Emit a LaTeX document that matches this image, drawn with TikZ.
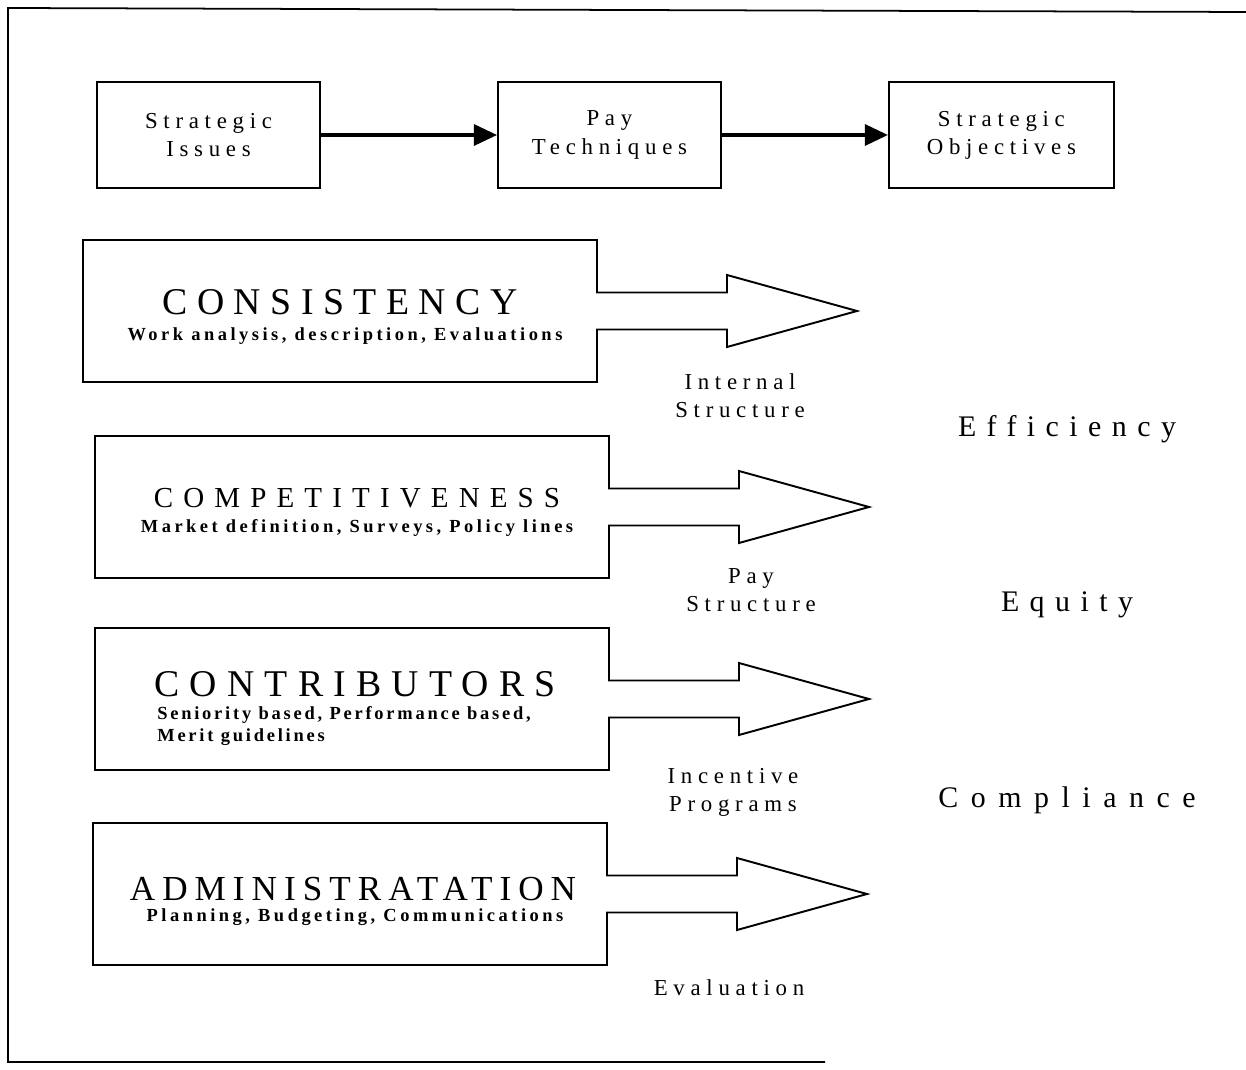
\documentclass[tikz,border=0pt]{standalone}
\usepackage{fontspec}
\setmainfont{Liberation Serif}
\newfontfamily\spaced[LetterSpace=25]{Liberation Serif}
\newfontfamily\wide[LetterSpace=35]{Liberation Serif}
\newfontfamily\narrowspaced[LetterSpace=19]{Liberation Serif}
\usetikzlibrary{arrows.meta}
\usetikzlibrary{positioning}
\tikzset{techbox/.style = {draw, line width = 1.1pt, minimum width = 4.46cm, minimum height = 2.12cm, inner sep = 0, align = center, font = \spaced\fontsize{13}{16}\selectfont}}
\tikzset{flow/.style = {line width = 1.8pt, -{Triangle[length = 0.46cm, width = 0.42cm]}}}
\tikzset{outline/.style = {line width = 1.1pt, line join = miter}}
\tikzset{heading/.style = {inner sep = 0, anchor = base}}
\tikzset{detail/.style = {inner sep = 0, font = \narrowspaced\bfseries\fontsize{10.5}{12.5}\selectfont}}
\tikzset{result/.style = {inner sep = 0, align = center, font = \spaced\fontsize{13}{16}\selectfont}}
\tikzset{goal/.style = {inner sep = 0, font = \wide\fontsize{17}{20}\selectfont}}

\begin{document}
\begin{tikzpicture}
    \useasboundingbox (0, 0) rectangle (24.92, 21.38);
    \draw [line width = 1pt] (24.92, 21.14) -- (0.16, 21.22) -- (0.16, 0.14) -- (16.5, 0.14);

    \node [techbox] (issues) at (4.17, 18.68) {Strategic\\Issues};
    \node [techbox, right = 3.52cm of issues] (techniques) {Pay\\Techniques};
    \node [techbox, minimum width = 4.5cm, right = 3.32cm of techniques] (objectives) {Strategic\\Objectives};
    \draw [flow] (issues) -- (techniques);
    \draw [flow] (techniques) -- (objectives);

    \begin{scope}[shift={(1.66, 15.16)}]
      \draw [outline] (0, 1.42) -- (10.28, 1.42) -- (10.28, 0.37) -- (12.88, 0.37) -- (12.88, 0.72) -- (15.48, 0) -- (12.88, -0.72) -- (12.88, -0.37) -- (10.28, -0.37) -- (10.28, -1.42) -- (0, -1.42) -- cycle;
      \node [heading, font = \spaced\fontsize{21.5}{24}\selectfont] (consistency) at (5.14, -0.08) {CONSISTENCY};
      \node [detail] (consistencydetail) at (5.24, -0.5) {Work analysis, description, Evaluations};
      \node [result] (internal) at (13.14, -1.69) {Internal\\Structure};
    \end{scope}
    \begin{scope}[shift={(1.9, 11.24)}]
      \draw [outline] (0, 1.42) -- (10.28, 1.42) -- (10.28, 0.37) -- (12.88, 0.37) -- (12.88, 0.72) -- (15.48, 0) -- (12.88, -0.72) -- (12.88, -0.37) -- (10.28, -0.37) -- (10.28, -1.42) -- (0, -1.42) -- cycle;
      \node [heading, font = \spaced\fontsize{16.5}{20}\selectfont\addfontfeature{LetterSpace=35}] (competitiveness) at (5.24, -0.01) {COMPETITIVENESS};
      \node [detail] (competitivenessdetail) at (5.24, -0.42) {Market definition, Surveys, Policy lines};
      \node [result] (paystructure) at (13.12, -1.67) {Pay\\Structure};
    \end{scope}
    \begin{scope}[shift={(1.9, 7.4)}]
      \draw [outline] (0, 1.42) -- (10.28, 1.42) -- (10.28, 0.37) -- (12.88, 0.37) -- (12.88, 0.72) -- (15.48, 0) -- (12.88, -0.72) -- (12.88, -0.37) -- (10.28, -0.37) -- (10.28, -1.42) -- (0, -1.42) -- cycle;
      \node [heading, font = \spaced\fontsize{21.5}{24}\selectfont\addfontfeature{LetterSpace=27}] (contributors) at (5.2, 0.06) {CONTRIBUTORS};
      \node [detail, font = \narrowspaced\bfseries\fontsize{10.5}{12.5}\selectfont\addfontfeature{LetterSpace=15}, align = left, anchor = west] (contributorsdetail) at (1.24, -0.55) {Seniority based, Performance based,\\Merit guidelines};
      \node [result] (incentive) at (12.76, -1.86) {Incentive\\Programs};
    \end{scope}
    \begin{scope}[shift={(1.86, 3.5)}]
      \draw [outline] (0, 1.42) -- (10.28, 1.42) -- (10.28, 0.37) -- (12.88, 0.37) -- (12.88, 0.72) -- (15.48, 0) -- (12.88, -0.72) -- (12.88, -0.37) -- (10.28, -0.37) -- (10.28, -1.42) -- (0, -1.42) -- cycle;
      \node [heading, font = \spaced\fontsize{20}{23}\selectfont\addfontfeature{LetterSpace=20}] (administratation) at (5.2, -0.12) {ADMINISTRATATION};
      \node [detail] (administratationdetail) at (5.24, -0.46) {Planning, Budgeting, Communications};
      \node [result] (evaluation) at (12.72, -1.88) {Evaluation};
    \end{scope}

    \node [goal] (efficiency) at (21.34, 12.8) {Efficiency};
    \node [goal] (equity) at (21.34, 9.28) {Equity};
    \node [goal, font = \wide\fontsize{17}{20}\selectfont\addfontfeature{LetterSpace=42}] (compliance) at (21.34, 5.38) {Compliance};
\end{tikzpicture}
\end{document}
